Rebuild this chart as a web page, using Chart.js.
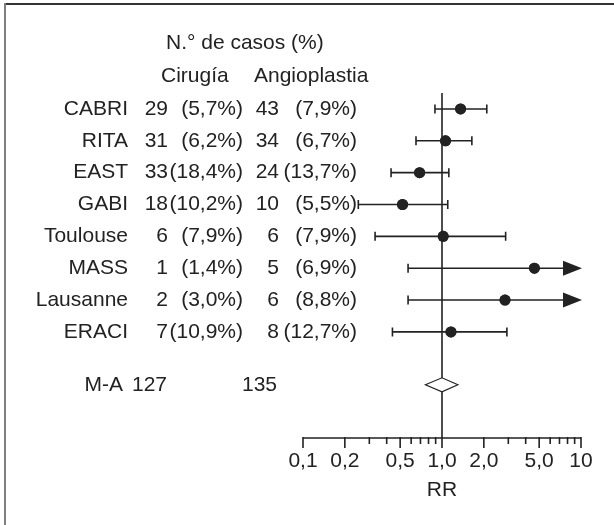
<!DOCTYPE html>
<html>
<head>
<meta charset="utf-8">
<script src="https://cdn.jsdelivr.net/npm/chart.js@4.4.1/dist/chart.umd.min.js"></script>
<style>
  html, body { margin: 0; padding: 0; background: #fff; }
  canvas { display: block; }
</style>
</head>
<body>
<canvas id="forestChart" width="614" height="525"></canvas>
<script>
// data
const studies = ['CABRI', 'RITA', 'EAST', 'GABI', 'Toulouse', 'MASS', 'Lausanne', 'ERACI'];
const surgeryN = [29, 31, 33, 18, 6, 1, 2, 7];
const surgeryPct = ['5,7', '6,2', '18,4', '10,2', '7,9', '1,4', '3,0', '10,9'];
const angioN = [43, 34, 24, 10, 6, 5, 6, 8];
const angioPct = ['7,9', '6,7', '13,7', '5,5', '7,9', '6,9', '8,8', '12,7'];
const rr = [1.36, 1.06, 0.69, 0.52, 1.02, 4.62, 2.84, 1.16];
const ciLow = [0.89, 0.65, 0.43, 0.25, 0.33, 0.57, 0.57, 0.44];
const ciHigh = [2.10, 1.64, 1.12, 1.10, 2.87, null, null, 2.93]; // null = goes past 10 (arrow)
const maTotals = [127, 135];
const maRR = [0.76, 1.0, 1.30]; // low, estimate, high
const xTicks = [0.1, 0.2, 0.3, 0.4, 0.5, 0.6, 0.7, 0.8, 0.9, 1, 2, 3, 4, 5, 6, 7, 8, 9, 10];
const xLabels = [0.1, 0.2, 0.5, 1, 2, 5, 10];

const maRow = 8.66;
const ink = '#222';
const family = '"Liberation Sans", Arial, sans-serif';
const font = '21px ' + family;

function fmt(v) {
  if (v === 10) return '10';
  return v.toFixed(1).replace('.', ',');
}

const forestPlugin = {
  id: 'forest',
  beforeDraw(chart) {
    const ctx = chart.ctx;
    ctx.save();
    ctx.fillStyle = '#fff';
    ctx.fillRect(0, 0, chart.width, chart.height);
    // frame lines (top and left only)
    ctx.fillStyle = '#333';
    ctx.fillRect(4, 3, chart.width - 4, 2);
    ctx.fillStyle = '#808080';
    ctx.fillRect(4, 3, 2, chart.height - 3);
    ctx.restore();
  },
  afterDraw(chart) {
    const ctx = chart.ctx;
    const x = chart.scales.x;
    const y = chart.scales.y;
    ctx.save();
    ctx.strokeStyle = ink;
    ctx.fillStyle = ink;
    ctx.lineWidth = 1.6;

    // axis line and tick marks
    const base = chart.chartArea.bottom;
    ctx.beginPath();
    ctx.moveTo(x.getPixelForValue(0.1), base);
    ctx.lineTo(x.getPixelForValue(10), base);
    xTicks.forEach(v => {
      const px = x.getPixelForValue(v);
      const len = xLabels.includes(v) ? 10 : 6;
      ctx.moveTo(px, base - 1);
      ctx.lineTo(px, base + len);
    });
    ctx.stroke();

    // confidence intervals
    studies.forEach((s, i) => {
      const py = y.getPixelForValue(i);
      const lo = x.getPixelForValue(ciLow[i]);
      ctx.beginPath();
      ctx.moveTo(lo, py - 4.5);
      ctx.lineTo(lo, py + 4.5);
      if (ciHigh[i] !== null) {
        const hi = x.getPixelForValue(ciHigh[i]);
        ctx.moveTo(lo, py);
        ctx.lineTo(hi, py);
        ctx.moveTo(hi, py - 4.5);
        ctx.lineTo(hi, py + 4.5);
        ctx.stroke();
      } else {
        const tip = x.getPixelForValue(10) + 1;
        ctx.moveTo(lo, py);
        ctx.lineTo(tip - 18, py);
        ctx.stroke();
        ctx.beginPath();
        ctx.moveTo(tip, py);
        ctx.lineTo(tip - 19, py - 7.5);
        ctx.lineTo(tip - 19, py + 7.5);
        ctx.closePath();
        ctx.fill();
      }
    });

    // pooled estimate diamond
    const my = y.getPixelForValue(maRow);
    ctx.beginPath();
    ctx.moveTo(x.getPixelForValue(maRR[0]), my);
    ctx.lineTo(x.getPixelForValue(maRR[1]), my - 7);
    ctx.lineTo(x.getPixelForValue(maRR[2]), my);
    ctx.lineTo(x.getPixelForValue(maRR[1]), my + 7);
    ctx.closePath();
    ctx.fillStyle = '#fff';
    ctx.fill();
    ctx.lineWidth = 1.2;
    ctx.stroke();

    // re-draw the dots over the interval lines
    ctx.fillStyle = ink;
    rr.forEach((v, i) => {
      ctx.beginPath();
      ctx.arc(x.getPixelForValue(v), y.getPixelForValue(i), 5.5, 0, Math.PI * 2);
      ctx.fill();
    });

    // table text
    ctx.font = font;
    ctx.textBaseline = 'middle';
    ctx.textAlign = 'left';
    ctx.fillText('N.° de casos (%)', 166, y.getPixelForValue(-2.07));
    ctx.fillText('Cirugía', 161, y.getPixelForValue(-1.03));
    ctx.fillText('Angioplastia', 254, y.getPixelForValue(-1.03));
    ctx.textAlign = 'right';
    studies.forEach((s, i) => {
      const py = y.getPixelForValue(i);
      ctx.fillText(s, 128, py);
      ctx.fillText(String(surgeryN[i]), 168, py);
      ctx.fillText('(' + surgeryPct[i] + '%)', 243, py);
      ctx.fillText(String(angioN[i]), 279, py);
      ctx.fillText('(' + angioPct[i] + '%)', 357, py);
    });
    ctx.fillText('M-A', 123, my);
    ctx.fillText(String(maTotals[0]), 167, my);
    ctx.fillText(String(maTotals[1]), 277, my);
    ctx.restore();
  }
};

new Chart(document.getElementById('forestChart'), {
  type: 'scatter',
  data: {
    datasets: [{
      type: 'line',
      data: [{ x: 1, y: -0.5 }, { x: 1, y: 10.33 }],
      borderColor: ink,
      borderWidth: 1.6,
      pointRadius: 0
    }, {
      data: rr.map((v, i) => ({ x: v, y: i })),
      backgroundColor: ink,
      borderWidth: 0,
      pointRadius: 5.5
    }]
  },
  options: {
    responsive: false,
    animation: false,
    layout: { padding: { left: 303, right: 33, top: 93, bottom: 0 } },
    plugins: {
      legend: { display: false },
      tooltip: { enabled: false }
    },
    scales: {
      x: {
        type: 'logarithmic',
        min: 0.1,
        max: 10,
        grid: { display: false, drawTicks: false },
        border: { display: false },
        afterBuildTicks: axis => {
          axis.ticks = xTicks.map(v => ({ value: v }));
        },
        afterFit: axis => { axis.height = 87; },
        ticks: {
          autoSkip: false,
          maxRotation: 0,
          padding: 11,
          color: ink,
          font: { family: family, size: 21 },
          callback: v => xLabels.includes(v) ? fmt(v) : ''
        },
        title: {
          display: true,
          text: 'RR',
          color: ink,
          padding: { top: 4, bottom: 22 },
          font: { family: family, size: 21 }
        }
      },
      y: {
        display: false,
        reverse: true,
        min: -0.5,
        max: 10.33
      }
    }
  },
  plugins: [forestPlugin]
});
</script>
</body>
</html>
